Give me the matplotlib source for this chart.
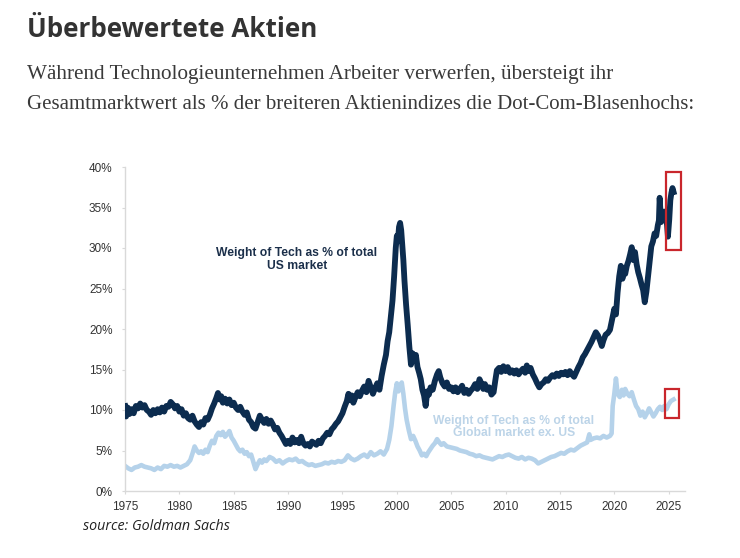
import numpy as np
import matplotlib
matplotlib.use("Agg")
import matplotlib.pyplot as plt
from matplotlib.patches import Rectangle
from matplotlib.ticker import FuncFormatter

# Weight of tech as % of total US market
us_years = [1975.0, 1975.1, 1975.25, 1975.4, 1975.6, 1975.8, 1976.0, 1976.2, 1976.4, 1976.6,
            1976.8, 1977.0, 1977.2, 1977.4, 1977.6, 1977.8, 1978.0, 1978.2, 1978.4, 1978.6,
            1978.8, 1979.0, 1979.2, 1979.4, 1979.6, 1979.8, 1980.0, 1980.2, 1980.4, 1980.6,
            1980.8, 1981.0, 1981.2, 1981.4, 1981.6, 1981.8, 1982.0, 1982.2, 1982.4, 1982.6,
            1982.8, 1983.0, 1983.2, 1983.4, 1983.55, 1983.7, 1983.85, 1984.0, 1984.2, 1984.4,
            1984.6, 1984.8, 1985.0, 1985.2, 1985.4, 1985.6, 1985.8, 1986.0, 1986.2, 1986.4,
            1986.6, 1986.8, 1987.0, 1987.2, 1987.4, 1987.6, 1987.8, 1988.0, 1988.2, 1988.4,
            1988.6, 1988.8, 1989.0, 1989.2, 1989.4, 1989.6, 1989.8, 1990.0, 1990.2, 1990.4,
            1990.6, 1990.8, 1991.0, 1991.2, 1991.4, 1991.6, 1991.8, 1992.0, 1992.2, 1992.4,
            1992.6, 1992.8, 1993.0, 1993.2, 1993.4, 1993.6, 1993.8, 1994.0, 1994.2, 1994.4,
            1994.6, 1994.8, 1995.0, 1995.2, 1995.4, 1995.55, 1995.7, 1995.85, 1996.0, 1996.2,
            1996.4, 1996.6, 1996.8, 1997.0, 1997.2, 1997.4, 1997.6, 1997.8, 1998.0, 1998.2,
            1998.4, 1998.6, 1998.8, 1999.0, 1999.15, 1999.3, 1999.45, 1999.6, 1999.75, 1999.9,
            2000.0, 2000.1, 2000.2, 2000.3, 2000.4, 2000.5, 2000.6, 2000.7, 2000.85, 2001.0,
            2001.15, 2001.3, 2001.45, 2001.6, 2001.75, 2001.9, 2002.05, 2002.2, 2002.35, 2002.5,
            2002.65, 2002.8, 2002.95, 2003.1, 2003.3, 2003.5, 2003.7, 2003.85, 2004.0, 2004.2,
            2004.4, 2004.6, 2004.8, 2005.0, 2005.2, 2005.4, 2005.6, 2005.8, 2006.0, 2006.2,
            2006.4, 2006.6, 2006.8, 2007.0, 2007.2, 2007.4, 2007.6, 2007.8, 2007.95, 2008.1,
            2008.3, 2008.5, 2008.7, 2008.9, 2009.05, 2009.2, 2009.4, 2009.6, 2009.8, 2010.0,
            2010.2, 2010.4, 2010.6, 2010.8, 2011.0, 2011.2, 2011.4, 2011.6, 2011.8, 2011.95,
            2012.1, 2012.3, 2012.5, 2012.7, 2012.9, 2013.1, 2013.3, 2013.5, 2013.7, 2013.9,
            2014.1, 2014.3, 2014.5, 2014.7, 2014.9, 2015.1, 2015.3, 2015.5, 2015.7, 2015.9,
            2016.1, 2016.3, 2016.5, 2016.7, 2016.9, 2017.1, 2017.3, 2017.5, 2017.7, 2017.9,
            2018.1, 2018.3, 2018.5, 2018.7, 2018.85, 2019.0, 2019.2, 2019.4, 2019.6, 2019.8,
            2020.0, 2020.15, 2020.3, 2020.45, 2020.6, 2020.75, 2020.9, 2021.0, 2021.15, 2021.3,
            2021.45, 2021.6, 2021.75, 2021.9, 2022.05, 2022.2, 2022.35, 2022.5, 2022.65, 2022.8,
            2022.95, 2023.1, 2023.25, 2023.4, 2023.55, 2023.7, 2023.85, 2024.0, 2024.1, 2024.17,
            2024.3, 2024.45, 2024.6, 2024.72, 2024.85, 2024.93, 2025.05, 2025.15, 2025.25, 2025.35,
            2025.45]
us_share = [10.5, 9.2, 10.3, 9.5, 10.1, 9.6, 10.5, 10.2, 10.8, 10.3,
            10.6, 10.0, 9.8, 9.4, 10.0, 9.6, 10.1, 9.7, 10.3, 9.8,
            10.5, 10.4, 11.0, 10.7, 10.2, 10.5, 9.8, 10.1, 9.3, 9.6,
            9.0, 8.8, 9.3, 8.6, 8.2, 7.9, 8.5, 8.2, 9.0, 8.8,
            9.4, 10.2, 10.8, 11.5, 12.1, 11.3, 11.7, 10.9, 11.4, 10.8,
            11.3, 10.6, 10.9, 10.3, 10.0, 10.4, 9.8, 9.4, 9.7, 8.8,
            8.5, 7.9, 7.7, 8.5, 9.3, 8.8, 8.4, 8.9, 8.3, 8.7,
            8.2, 7.6, 7.8, 7.2, 6.8, 6.3, 5.8, 6.2, 5.8, 6.6,
            6.0, 6.3, 5.9, 6.7, 5.9, 5.6, 5.8, 5.5, 6.1, 5.9,
            5.7, 6.2, 5.9, 6.5, 6.8, 7.2, 7.0, 7.6, 7.9, 8.3,
            8.6, 9.1, 9.6, 10.4, 11.1, 12.0, 11.2, 11.8, 10.9, 11.6,
            12.2, 11.7, 12.4, 12.9, 12.2, 13.6, 12.8, 12.0, 12.7, 13.3,
            12.5, 14.2, 15.6, 16.8, 18.5, 19.6, 21.5, 23.5, 26.5, 30.0,
            31.5, 30.8, 32.6, 33.1, 32.2, 30.3, 28.5, 26.0, 23.0, 20.5,
            17.8, 15.6, 17.0, 16.2, 16.8, 15.3, 14.6, 13.8, 12.5, 11.8,
            10.5, 12.3, 11.9, 12.8, 12.5, 13.6, 14.4, 14.8, 14.0, 13.3,
            12.9, 13.4, 12.6, 12.8, 12.3, 12.8, 12.2, 12.6, 13.0, 12.1,
            12.5, 12.0, 12.4, 12.7, 13.2, 12.6, 13.8, 13.2, 12.6, 13.2,
            12.5, 12.8, 11.9, 12.2, 13.6, 14.9, 15.2, 14.7, 15.4, 14.8,
            15.3, 14.6, 14.9, 14.5, 14.9, 14.4, 14.8, 15.1, 14.6, 15.5,
            14.8, 15.2, 14.4, 13.9, 13.3, 12.8, 13.2, 13.4, 13.8, 13.6,
            14.0, 14.3, 14.1, 14.5, 14.2, 14.6, 14.4, 14.7, 14.3, 14.8,
            14.4, 14.1, 14.7, 15.3, 15.8, 16.5, 16.9, 17.4, 17.9, 18.4,
            19.0, 19.6, 19.2, 18.5, 17.9, 18.6, 19.3, 19.5, 19.9, 21.2,
            22.5, 21.8, 24.5, 26.5, 27.8, 26.2, 27.5, 26.8, 27.8, 28.4,
            29.2, 30.1, 28.5, 29.5, 28.0, 27.0, 26.3, 25.5, 24.8, 23.3,
            24.6, 26.5, 28.5, 30.2, 30.8, 31.8, 31.5, 32.8, 33.4, 36.2,
            33.2, 33.8, 34.5, 34.3, 32.8, 31.4, 33.5, 35.9, 36.8, 37.4,
            36.9]

# Weight of tech as % of total global market ex. US
gl_years = [1975.0, 1975.3, 1975.6, 1975.9, 1976.2, 1976.5, 1976.8, 1977.1, 1977.4, 1977.7,
            1978.0, 1978.3, 1978.6, 1978.9, 1979.2, 1979.5, 1979.8, 1980.1, 1980.4, 1980.7,
            1981.0, 1981.2, 1981.4, 1981.6, 1981.8, 1982.0, 1982.2, 1982.4, 1982.6, 1982.8,
            1983.0, 1983.2, 1983.4, 1983.6, 1983.8, 1984.0, 1984.2, 1984.4, 1984.6, 1984.8,
            1985.0, 1985.2, 1985.4, 1985.6, 1985.8, 1986.0, 1986.2, 1986.4, 1986.6, 1986.8,
            1987.0, 1987.2, 1987.4, 1987.6, 1987.8, 1988.0, 1988.3, 1988.6, 1988.9, 1989.2,
            1989.5, 1989.8, 1990.1, 1990.4, 1990.7, 1991.0, 1991.3, 1991.6, 1991.9, 1992.2,
            1992.5, 1992.8, 1993.1, 1993.4, 1993.7, 1994.0, 1994.3, 1994.6, 1994.9, 1995.2,
            1995.5, 1995.8, 1996.1, 1996.4, 1996.7, 1997.0, 1997.3, 1997.6, 1997.9, 1998.2,
            1998.5, 1998.8, 1999.1, 1999.3, 1999.5, 1999.7, 1999.85, 2000.0, 2000.15, 2000.3,
            2000.45, 2000.6, 2000.75, 2000.9, 2001.1, 2001.3, 2001.5, 2001.7, 2001.9, 2002.1,
            2002.3, 2002.5, 2002.7, 2002.9, 2003.1, 2003.3, 2003.5, 2003.7, 2003.9, 2004.1,
            2004.3, 2004.6, 2004.9, 2005.2, 2005.5, 2005.8, 2006.1, 2006.4, 2006.7, 2007.0,
            2007.3, 2007.6, 2007.9, 2008.2, 2008.5, 2008.8, 2009.1, 2009.4, 2009.7, 2010.0,
            2010.3, 2010.6, 2010.9, 2011.2, 2011.5, 2011.8, 2012.1, 2012.4, 2012.7, 2013.0,
            2013.3, 2013.6, 2013.9, 2014.2, 2014.5, 2014.8, 2015.1, 2015.4, 2015.7, 2016.0,
            2016.3, 2016.6, 2016.9, 2017.2, 2017.5, 2017.7, 2017.8, 2018.1, 2018.4, 2018.7,
            2019.0, 2019.3, 2019.6, 2019.75, 2019.85, 2020.0, 2020.15, 2020.3, 2020.5, 2020.7,
            2020.85, 2021.0, 2021.2, 2021.4, 2021.6, 2021.8, 2022.0, 2022.2, 2022.4, 2022.6,
            2022.8, 2023.0, 2023.2, 2023.4, 2023.6, 2023.8, 2024.0, 2024.2, 2024.4, 2024.6,
            2024.8, 2025.0, 2025.2, 2025.45]
gl_share = [3.1, 2.8, 2.6, 2.9, 3.0, 3.2, 3.0, 2.9, 2.8, 2.6,
            2.9, 2.7, 3.1, 3.0, 3.2, 3.0, 3.1, 2.9, 3.1, 3.3,
            3.8, 4.6, 5.5, 5.0, 4.7, 4.9, 4.6, 5.1, 4.8, 5.6,
            6.2, 5.9, 6.8, 7.2, 6.9, 7.3, 6.7, 7.0, 7.4, 6.6,
            6.2, 5.7, 5.2, 4.9, 5.1, 4.6, 4.8, 4.3, 4.5, 3.6,
            2.7, 3.3, 3.8, 3.5, 3.9, 3.7, 4.2, 4.0, 3.6, 3.8,
            3.4, 3.7, 3.9, 3.8, 4.0, 3.6, 3.7, 3.4, 3.2, 3.3,
            3.1, 3.2, 3.3, 3.5, 3.4, 3.6, 3.5, 3.7, 3.6, 3.8,
            4.4, 4.0, 3.8, 4.0, 4.3, 4.5, 4.2, 4.8, 4.4, 4.6,
            4.9, 4.5, 5.2, 6.3, 8.0, 10.5, 12.2, 13.3, 12.3, 13.0,
            13.4, 12.0, 10.2, 8.8, 7.5, 6.4, 6.8, 6.2, 5.5, 5.0,
            4.4, 4.6, 4.3, 4.8, 5.2, 5.6, 5.9, 6.4, 6.0, 5.7,
            5.9, 5.5, 5.4, 5.3, 5.2, 5.0, 4.9, 4.8, 4.6, 4.5,
            4.3, 4.4, 4.2, 4.1, 4.0, 3.9, 4.1, 4.3, 4.2, 4.4,
            4.5, 4.3, 4.1, 4.0, 4.2, 3.9, 4.1, 4.0, 3.8, 3.4,
            3.6, 3.8, 4.0, 4.2, 4.3, 4.5, 4.7, 4.6, 4.9, 5.1,
            5.0, 5.3, 5.6, 5.8, 6.0, 7.0, 6.3, 6.5, 6.6, 6.5,
            6.8, 6.6, 6.8, 7.1, 10.5, 12.0, 13.9, 12.0, 11.6, 12.5,
            11.8, 12.6, 12.0, 11.7, 12.2, 11.3, 10.5, 10.1, 9.3, 9.8,
            9.1, 9.6, 10.2, 9.7, 9.2, 9.6, 10.1, 10.4, 10.0, 10.5,
            10.1, 10.7, 11.1, 11.3]

x_ticks = [1975, 1980, 1985, 1990, 1995, 2000, 2005, 2010, 2015, 2020, 2025]
y_ticks = [0, 5, 10, 15, 20, 25, 30, 35, 40]

dark_blue = "#0c2c4f"
light_blue = "#b5d2ea"
box_red = "#c9262c"

fig = plt.figure(figsize=(7.4, 5.58), dpi=100)
fig.patch.set_facecolor("white")

# header texts
fig.text(27 / 740, 1 - 37 / 558, "Überbewertete Aktien", family="Open Sans",
         fontweight="bold", fontsize=18.7, color="#333333", va="baseline")
fig.text(27 / 740, 1 - 79 / 558,
         "Während Technologieunternehmen Arbeiter verwerfen, übersteigt ihr",
         family="Liberation Serif", fontsize=15.2, color="#3a3a3a", va="baseline")
fig.text(27 / 740, 1 - 109 / 558,
         "Gesamtmarktwert als % der breiteren Aktienindizes die Dot-Com-Blasenhochs:",
         family="Liberation Serif", fontsize=15.0, color="#3a3a3a", va="baseline")

ax = fig.add_axes([125 / 740, 67 / 558, 560 / 740, 324 / 558])
ax.plot(gl_years, gl_share, color=light_blue, lw=3.3, solid_joinstyle="round", zorder=2)
ax.plot(us_years, us_share, color=dark_blue, lw=4.2, solid_joinstyle="round", zorder=3)

ax.set_xlim(1975, 2026.5)
ax.set_ylim(0, 40)
ax.set_xticks(x_ticks)
ax.set_yticks(y_ticks)
ax.yaxis.set_major_formatter(FuncFormatter(lambda v, p: f"{v:.0f}%"))

for side in ["top", "right"]:
    ax.spines[side].set_visible(False)
for side in ["left", "bottom"]:
    ax.spines[side].set_color("#d9d9d9")
    ax.spines[side].set_linewidth(1)

ax.tick_params(axis="both", colors="#d9d9d9", labelcolor="#333333",
               labelsize=8.5, length=2)
ax.tick_params(axis="y", pad=7)
ax.tick_params(axis="x", pad=5)
for lab in ax.get_xticklabels() + ax.get_yticklabels():
    lab.set_family("Liberation Sans")

# annotations
ax.text(1990.8, 28.6, "Weight of Tech as % of total\nUS market", ha="center", va="center",
        fontsize=8.7, fontweight="bold", color="#1b2f4a", family="Liberation Sans",
        linespacing=1.05)
ax.text(2010.75, 7.9, "Weight of Tech as % of total\nGlobal market ex. US", ha="center",
        va="center", fontsize=8.7, fontweight="bold", color="#bcd4e8",
        family="Liberation Sans", linespacing=1.05)

# red highlight boxes
ax.add_patch(Rectangle((2024.75, 29.8), 1.35, 9.6, fill=False, edgecolor=box_red,
                       lw=1.6, zorder=4, clip_on=False))
ax.add_patch(Rectangle((2024.65, 9.0), 1.3, 3.6, fill=False, edgecolor=box_red,
                       lw=1.6, zorder=4, clip_on=False))

fig.text(83 / 740, 1 - 530 / 558, "source: Goldman Sachs", family="Open Sans",
         style="italic", fontsize=10.3, color="#222222", va="baseline")

fig.savefig("out.png", dpi=100)
